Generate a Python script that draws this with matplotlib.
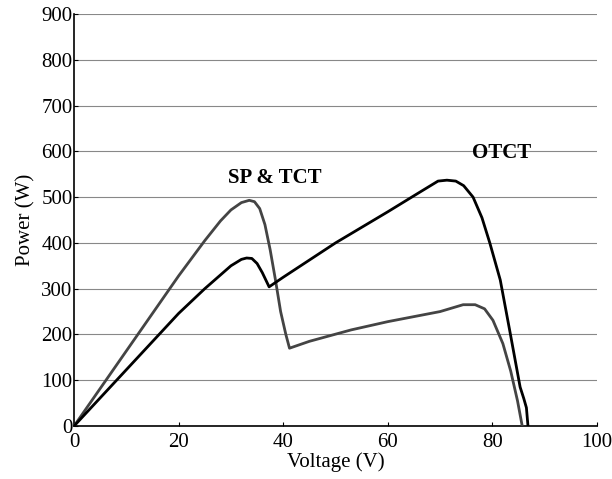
import matplotlib
matplotlib.use("Agg")
import matplotlib.pyplot as plt
import numpy as np

plt.rcParams['font.family'] = ['Liberation Serif', 'DejaVu Serif']

# SP & TCT curve (gray)
v_sp = [0, 10, 20, 25, 28, 30, 32, 33.5, 34.5, 35.5, 36.5, 37.5, 38.5, 39.5, 40.5, 41.2,
        45, 53, 60, 70, 74.4, 76.7, 78.5, 80.1, 82, 83.5, 84.8, 85.7]
p_sp = [0, 164, 328, 405, 448, 472, 488, 493, 490, 475, 440, 385, 320, 250, 200, 170,
        185, 210, 228, 250, 265, 265, 256, 231, 180, 120, 55, 0]

# OTCT curve (black)
v_ot = [0, 10, 20, 25, 28, 30, 32, 33, 34, 35, 36, 37.3,
        40, 50, 60, 66, 69.6, 71.3, 73, 74.5, 76.3, 78, 79.5, 81.5, 83.4, 85.3, 86.0, 86.5, 86.8]
p_ot = [0, 123, 246, 300, 330, 350, 364, 367, 366, 355, 335, 304,
        325, 400, 468, 510, 535, 537, 535, 525, 500, 455, 400, 319, 203, 85, 60, 40, 0]

fig = plt.figure(figsize=(6.12, 4.79), dpi=100)
ax = fig.add_axes([0.121, 0.1106, 0.8545, 0.8602])

ax.plot(v_sp, p_sp, color='#444444', lw=2.0, zorder=3)
ax.plot(v_ot, p_ot, color='black', lw=2.0, zorder=3)

ax.text(38.3, 541, 'SP & TCT', fontsize=15, fontweight='bold', ha='center', va='center')
ax.text(81.7, 596, 'OTCT', fontsize=15, fontweight='bold', ha='center', va='center')

ax.set_xlim(0, 100)
ax.set_ylim(0, 900)
ax.set_xticks(np.arange(0, 101, 20))
ax.set_yticks(np.arange(0, 901, 100))
ax.yaxis.grid(True, color='#888888', lw=0.8)
ax.set_axisbelow(True)
ax.spines['top'].set_visible(False)
ax.spines['right'].set_visible(False)
ax.spines['left'].set_linewidth(1.2)
ax.spines['bottom'].set_linewidth(1.2)
ax.tick_params(direction='in', length=3, labelsize=15)
ax.tick_params(axis='y', pad=1)
ax.tick_params(axis='x', pad=5)

ax.set_xlabel('Voltage (V)', fontsize=15, labelpad=0)
ax.set_ylabel('Power (W)', fontsize=15, labelpad=4)

fig.savefig('out.png', dpi=100)
